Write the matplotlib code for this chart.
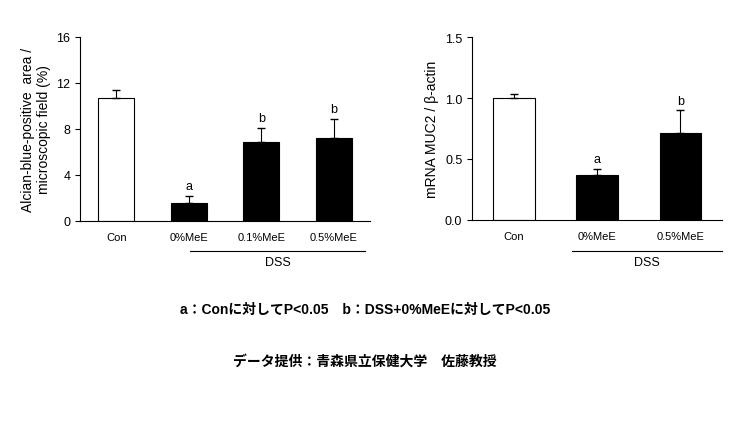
import matplotlib; matplotlib.use('Agg')
import matplotlib.pyplot as plt

plt.rcParams['font.family'] = ['Liberation Sans', 'Noto Sans CJK JP', 'DejaVu Sans']

# left panel data
left_cats = ['Con', '0%MeE', '0.1%MeE', '0.5%MeE']
left_vals = [10.7, 1.6, 6.9, 7.2]
left_err = [0.7, 0.6, 1.2, 1.7]
left_sig = ['', 'a', 'b', 'b']

# right panel data
right_cats = ['Con', '0%MeE', '0.5%MeE']
right_vals = [1.0, 0.37, 0.71]
right_err = [0.03, 0.05, 0.19]
right_sig = ['', 'a', 'b']

W, H = 730, 435
fig = plt.figure(figsize=(7.3, 4.35), dpi=100)

def panel(rect, cats, vals, err, sig, ylim, ticks, fmt, ylabel, dss_x):
    ax = fig.add_axes(rect)
    x = range(len(cats))
    colors = ['white'] + ['black'] * (len(cats) - 1)
    ax.bar(x, vals, width=0.5, color=colors, edgecolor='black', linewidth=0.8,
           yerr=[[0] * len(vals), err], error_kw=dict(ecolor='black', elinewidth=0.8, capsize=3))
    for i, (v, e, s) in enumerate(zip(vals, err, sig)):
        if s:
            ax.text(i, v + e + ylim[1] * 0.02, s, ha='center', va='bottom', fontsize=9)
    ax.set_xlim(-0.5, len(cats) - 0.5)
    ax.set_ylim(*ylim)
    ax.set_yticks(ticks)
    ax.set_yticklabels([fmt.format(t) for t in ticks], fontsize=9)
    ax.set_xticks(list(x))
    ax.set_xticklabels(cats, fontsize=8)
    ax.tick_params(axis='x', length=0, pad=8)
    ax.spines[['top', 'right']].set_visible(False)
    ax.set_ylabel(ylabel, fontsize=10)
    # DSS grouping line
    fig.add_artist(plt.Line2D([dss_x[0] / W, dss_x[1] / W], [1 - 252 / H] * 2,
                              color='black', lw=0.8))
    fig.text((dss_x[0] + dss_x[1]) / 2 / W, 1 - 263 / H, 'DSS', ha='center', va='center', fontsize=9)
    return ax

panel([80 / W, 1 - 222 / H, 290 / W, 184 / H], left_cats, left_vals, left_err, left_sig,
      (0, 16), [0, 4, 8, 12, 16], '{:.0f}',
      'Alcian-blue-positive  area /\nmicroscopic field (%)', (190, 365))
panel([472 / W, 1 - 221 / H, 250 / W, 183 / H], right_cats, right_vals, right_err, right_sig,
      (0, 1.5), [0, 0.5, 1.0, 1.5], '{:.1f}',
      'mRNA MUC2 / β-actin', (572, 722))

fig.text(365 / W, 1 - 310 / H, 'a：Conに対してP<0.05　b：DSS+0%MeEに対してP<0.05',
         ha='center', va='center', fontsize=10, fontweight='bold')
fig.text(365 / W, 1 - 362 / H, 'データ提供：青森県立保健大学　佐藤教授',
         ha='center', va='center', fontsize=10, fontweight='bold')

fig.savefig('out.png', dpi=100)
